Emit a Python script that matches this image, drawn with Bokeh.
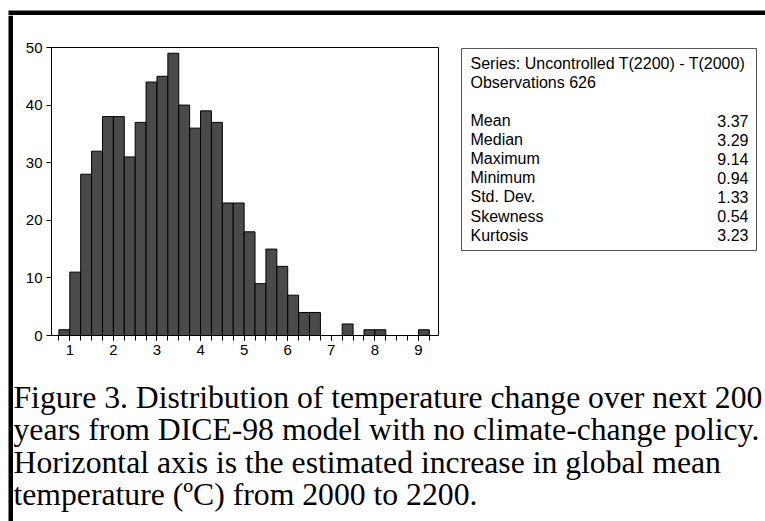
from bokeh.plotting import figure
from bokeh.models import Range1d, FixedTicker, ColumnDataSource
from bokeh.layouts import row, column
from bokeh.core.properties import value
from bokeh.embed import file_html
from bokeh.resources import INLINE

# ---- data ----
bin_left = [0.75, 1.0, 1.25, 1.5, 1.75, 2.0, 2.25, 2.5, 2.75, 3.0, 3.25, 3.5, 3.75,
            4.0, 4.25, 4.5, 4.75, 5.0, 5.25, 5.5, 5.75, 6.0, 6.25, 6.5, 6.75, 7.0,
            7.25, 7.5, 7.75, 8.0, 8.25, 8.5, 8.75, 9.0]
bin_width = 0.25
counts = [1, 11, 28, 32, 38, 38, 31, 37, 44, 45, 49, 40, 36,
          39, 37, 23, 23, 18, 9, 15, 12, 7, 4, 4, 0, 0,
          2, 0, 1, 1, 0, 0, 0, 1]
x_major = [1, 2, 3, 4, 5, 6, 7, 8, 9]
y_major = [0, 10, 20, 30, 40, 50]

stats_header = ["Series: Uncontrolled T(2200) - T(2000)", "Observations 626"]
stat_names = ["Mean", "Median", "Maximum", "Minimum", "Std. Dev.", "Skewness", "Kurtosis"]
stat_values = ["3.37", "3.29", "9.14", "0.94", "1.33", "0.54", "3.23"]

caption_lines = [
    "Figure 3. Distribution of temperature change over next 200",
    "years from DICE-98 model with no climate-change policy.",
    "Horizontal axis is the estimated increase in global mean",
    "temperature (\u00baC) from 2000 to 2200.",
]

# ---- page geometry (pixels) ----
PW, PH = 765, 521
CX, CY = 13, 15          # content origin (inside black border)
SPLIT_X = 450            # hist | stats
SPLIT_Y = 370            # top row | caption
FL, FT, FR, FB = 51, 47, 438, 335   # histogram frame edges


def blank(w, h, x0, x1, y0, y1, **kw):
    f = figure(width=w, height=h, output_backend="svg", toolbar_location=None,
               x_range=Range1d(x0, x1), y_range=Range1d(y1, y0),
               x_axis_type=None, y_axis_type=None, **kw)
    f.xgrid.visible = False
    f.ygrid.visible = False
    f.outline_line_color = None
    f.background_fill_color = "white"
    f.border_fill_color = "white"
    return f


NB = dict(min_border=0, min_border_left=0, min_border_right=0,
          min_border_top=0, min_border_bottom=0)

# top border strip
top_fig = blank(PW, CY, 0, PW, 0, CY, **NB)
top_fig.quad(left=[8], right=[PW], top=[10], bottom=[CY], fill_color="black", line_color=None)

# left border strip
left_fig = blank(CX, PH - CY, 0, CX, CY, PH, **NB)
left_fig.quad(left=[8], right=[CX], top=[CY], bottom=[PH], fill_color="black", line_color=None)

# histogram
p = figure(width=SPLIT_X - CX, height=SPLIT_Y - CY, output_backend="svg", toolbar_location=None,
           x_range=Range1d(0.58, 9.46), y_range=Range1d(0, 50),
           min_border_left=FL - CX, min_border_top=FT - CY,
           min_border_right=SPLIT_X - FR, min_border_bottom=SPLIT_Y - FB)
p.xgrid.visible = False
p.ygrid.visible = False
p.outline_line_color = "black"
p.outline_line_width = 1
p.background_fill_color = "white"
p.border_fill_color = "white"

src = ColumnDataSource(dict(
    left=bin_left,
    right=[b + bin_width for b in bin_left],
    top=counts,
    bottom=[0] * len(counts),
))
p.quad(left="left", right="right", top="top", bottom="bottom", source=src,
       fill_color="#4a4a4a", line_color="black", line_width=1)

minor = [bin_left[0] + i * bin_width for i in range(len(bin_left) + 1)]
p.xaxis.ticker = FixedTicker(ticks=x_major, minor_ticks=minor)
p.yaxis.ticker = FixedTicker(ticks=y_major, minor_ticks=[])
for ax in (p.xaxis[0], p.yaxis[0]):
    ax.axis_line_color = "black"
    ax.major_tick_line_color = "black"
    ax.minor_tick_line_color = "black"
    ax.major_tick_out = 5
    ax.major_tick_in = 0
    ax.minor_tick_out = 5
    ax.minor_tick_in = 0
    ax.major_label_text_font = "Liberation Sans"
    ax.major_label_text_font_size = "15px"
    ax.major_label_text_color = "black"
    ax.major_label_standoff = 4
p.yaxis.minor_tick_line_color = None

# stats panel (its frame is aligned with the histogram frame vertically)
s = blank(PW - SPLIT_X, SPLIT_Y - CY, SPLIT_X, PW, FT, FB,
          min_border_left=0, min_border_right=0,
          min_border_top=FT - CY, min_border_bottom=SPLIT_Y - FB)
s.quad(left=[461], right=[756], top=[48], bottom=[250], fill_color=None,
       line_color="#555555", line_width=1)
s.text(x=[470, 470], y=[63, 82], text=stats_header,
       text_font=value("Liberation Sans"), text_font_size="16px",
       text_baseline="middle", text_align="left", text_color="black")
row_y = [120 + i * 19.1 for i in range(len(stat_names))]
s.text(x=[470] * len(stat_names), y=row_y, text=stat_names,
       text_font=value("Liberation Sans"), text_font_size="16px",
       text_baseline="middle", text_align="left", text_color="black")
s.text(x=[748] * len(stat_values), y=row_y, text=stat_values,
       text_font=value("Liberation Sans"), text_font_size="16px",
       text_baseline="middle", text_align="right", text_color="black")

# caption
c = blank(PW - CX, PH - SPLIT_Y, CX, PW, SPLIT_Y, PH, **NB)
cap_y = [397 + i * 32.3 for i in range(len(caption_lines))]
c.text(x=[13] * len(caption_lines), y=cap_y, text=caption_lines,
       text_font=value("Liberation Serif"), text_font_size="31.7px",
       text_baseline="alphabetic", text_align="left", text_color="black")

layout = column(top_fig, row(left_fig, column(row(p, s, spacing=0), c, spacing=0), spacing=0),
                spacing=0)
open("out.html", "w").write(file_html(layout, INLINE))
